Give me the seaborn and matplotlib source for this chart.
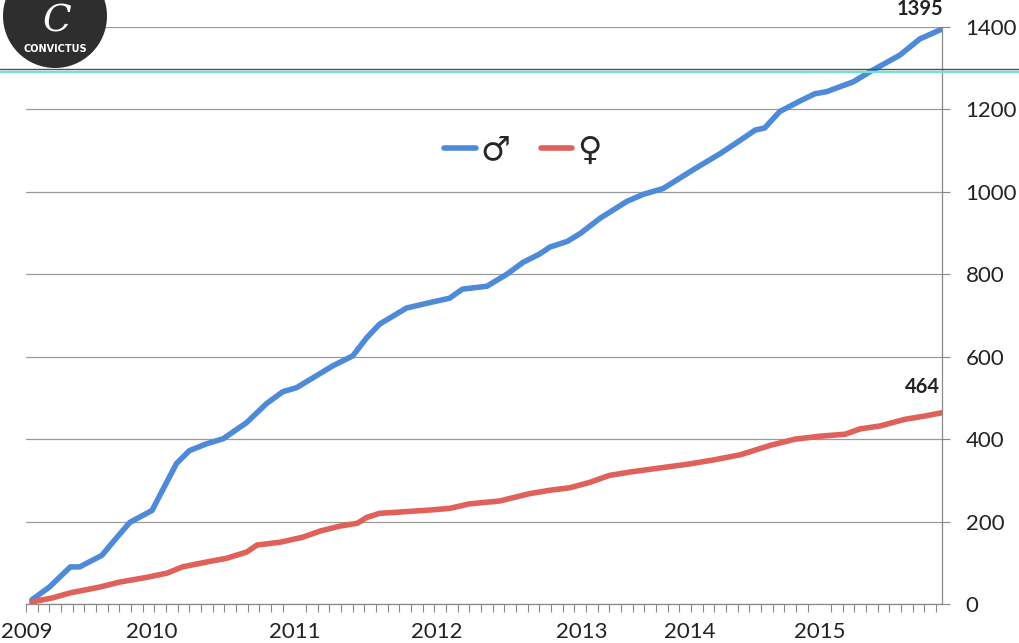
import numpy as np
import pandas as pd
import matplotlib
matplotlib.use("Agg")
import matplotlib.pyplot as plt
import seaborn as sns
from matplotlib.patches import Ellipse
from matplotlib.lines import Line2D

# ---- data (month index since Jan 2009, cumulative count) ----
male_month = [0.0, 1.5, 3.3, 4.1, 6.0, 7.3, 8.4, 10.3, 11.2, 12.4, 13.5, 15.0, 16.4, 18.4,
              20.1, 21.5, 22.7, 24.1, 25.8, 27.5, 28.7, 29.8, 32.1, 33.9, 35.8, 36.9, 39.0,
              40.7, 42.1, 43.5, 44.4, 45.9, 47.0, 48.7, 51.0, 52.4, 54.1, 56.7, 59.0, 60.7,
              62.0, 62.8, 64.1, 65.8, 67.1, 68.1, 70.4, 71.8, 74.4, 76.1, 78.0]
male_value = [10, 41, 90, 90, 118, 162, 198, 227, 276, 341, 372, 389, 401, 440,
              486, 515, 525, 549, 578, 602, 646, 679, 718, 730, 742, 764, 771,
              800, 829, 849, 866, 880, 899, 936, 977, 994, 1008, 1054, 1093, 1125,
              1150, 1155, 1195, 1220, 1238, 1243, 1267, 1291, 1332, 1371, 1395]
female_month = [0.0, 1.8, 3.3, 5.8, 7.5, 9.9, 11.6, 12.9, 15.0, 16.7, 18.4, 19.3, 21.3,
                23.2, 24.7, 26.4, 27.9, 28.7, 29.8, 31.5, 34.1, 35.8, 37.5, 40.1, 42.7,
                44.4, 46.1, 47.8, 49.5, 51.2, 53.8, 56.4, 58.5, 60.7, 63.3, 65.4, 67.5,
                69.7, 71.0, 72.7, 74.8, 76.5, 78.0]
female_value = [5, 15, 27, 41, 53, 65, 75, 90, 102, 111, 126, 143, 150,
                162, 177, 189, 196, 210, 220, 223, 228, 232, 243, 250, 268,
                276, 282, 295, 312, 320, 330, 340, 350, 362, 385, 400, 407,
                412, 425, 432, 448, 456, 464]
series_labels = ["♂", "♀"]
year_labels = ["2009", "2010", "2011", "2012", "2013", "2014", "2015"]
year_positions = [-0.4, 10.3, 22.5, 34.7, 47.1, 56.4, 67.5]
y_ticks = [0, 200, 400, 600, 800, 1000, 1200, 1400]
end_labels = ["1395", "464"]

df = pd.concat([
    pd.DataFrame({"month": male_month, "value": male_value, "sex": series_labels[0]}),
    pd.DataFrame({"month": female_month, "value": female_value, "sex": series_labels[1]}),
])

sns.set_theme(style="white")
plt.rcParams["font.family"] = ["Lato", "DejaVu Sans"]

W, H = 1019, 643
fig = plt.figure(figsize=(W / 100, H / 100), dpi=100)
ax = fig.add_axes([26 / W, 1 - 604 / H, (942 - 26) / W, (604 - 27) / H])

palette = {"♂": "#4f8ad9", "♀": "#e0605a"}
sns.lineplot(data=df, x="month", y="value", hue="sex", palette=palette,
             linewidth=4.0, ax=ax, legend=True, solid_capstyle="round",
             solid_joinstyle="round")

ax.set_xlim(-0.5, 78)
ax.set_ylim(0, 1400)
ax.set_xlabel("")
ax.set_ylabel("")

# y axis on the right
ax.yaxis.tick_right()
ax.set_yticks(y_ticks)
ax.set_yticklabels([str(v) for v in y_ticks], fontsize=16, color="#222222")
ax.tick_params(axis="y", which="major", length=6, width=0.8, color="#888888",
               pad=11, direction="out", right=True, left=False)

# x axis: years as labels, monthly minor ticks
ax.set_xticks(year_positions)
ax.set_xticklabels(year_labels, fontsize=16, color="#222222")
ax.set_xticks(np.arange(-0.5, 78, 1), minor=True)
ax.tick_params(axis="x", which="major", length=0, pad=13)
ax.tick_params(axis="x", which="minor", length=6, width=0.8, color="#888888",
               direction="out", bottom=True)

ax.grid(axis="y", color="#9a9a9a", linewidth=0.9)
ax.grid(axis="x", visible=False)
for s in ["left", "top"]:
    ax.spines[s].set_visible(False)
for s in ["right", "bottom"]:
    ax.spines[s].set_visible(True)
    ax.spines[s].set_color("#8a8a8a")
    ax.spines[s].set_linewidth(0.9)

# end labels
ax.text(76.1, 1443, end_labels[0], ha="center", va="center", fontsize=14.5,
        fontweight="bold", color="#222222", clip_on=False)
ax.text(76.3, 527, end_labels[1], ha="center", va="center", fontsize=14.5,
        fontweight="bold", color="#222222", clip_on=False)

# legend
leg = ax.legend(loc="center", bbox_to_anchor=((523 - 26) / (942 - 26), (604 - 150) / (604 - 27)),
                ncol=2, frameon=False, fontsize=24, handlelength=0.95,
                handletextpad=0.15, columnspacing=0.9)
for t in leg.get_texts():
    t.set_family("DejaVu Sans")
for h in leg.get_lines():
    h.set_linewidth(4.0)

# scanned page line
fig.add_artist(Line2D([0, 1], [1 - 69 / H, 1 - 69 / H], transform=fig.transFigure,
                      color="#2f5f5a", linewidth=1.0))
fig.add_artist(Line2D([0, 1], [1 - 71.5 / H, 1 - 71.5 / H], transform=fig.transFigure,
                      color="#6fe3cf", linewidth=1.6))

# logo
fig.add_artist(Ellipse((55 / W, 1 - 16 / H), 104 / W, 104 / H, transform=fig.transFigure,
                       facecolor="#2e2e2e", edgecolor="none", zorder=5))
fig.text(57 / W, 1 - 21 / H, "C", color="white", fontsize=27, style="italic",
         family="DejaVu Serif", ha="center", va="center", zorder=6)
fig.text(55 / W, 1 - 49 / H, "CONVICTUS", color="white", fontsize=7, fontweight="bold",
         family="DejaVu Sans", ha="center", va="center", zorder=6)

fig.savefig("out.png", dpi=100, facecolor="white")
